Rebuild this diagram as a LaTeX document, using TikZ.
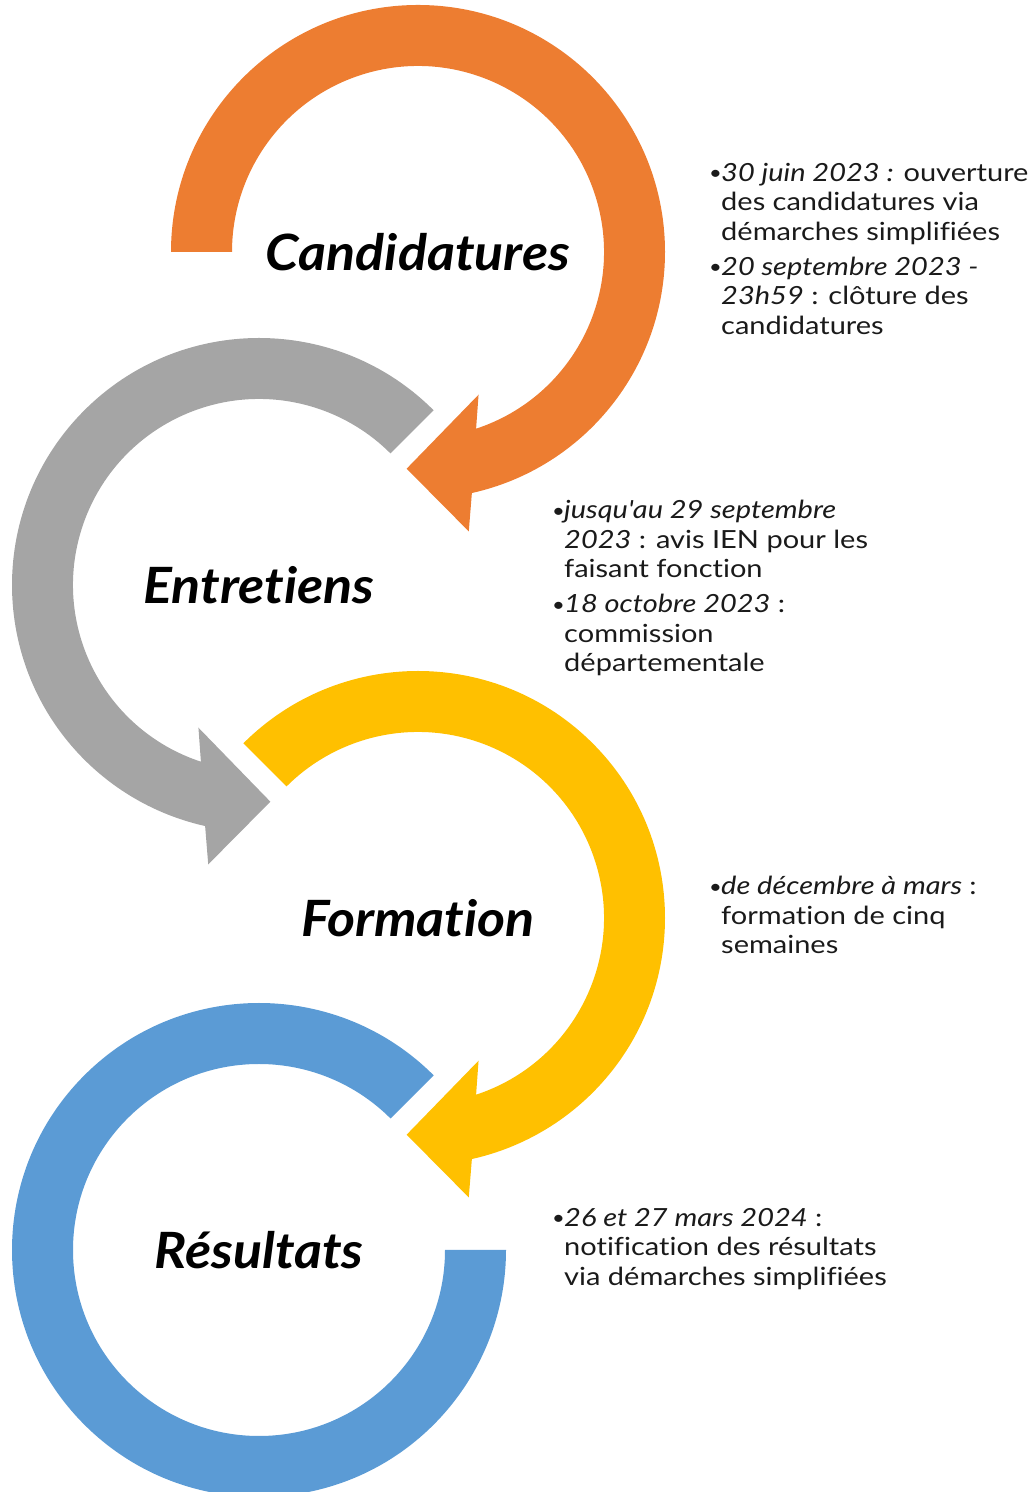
\documentclass[tikz,border=0pt]{standalone}
\usepackage{fontspec}
\setmainfont{Lato}
\newfontfamily\infofont{Lato}[FakeStretch=1.16, Ligatures={TeX,NoCommon}]
\newfontfamily\titrefont{Lato}[FakeStretch=1.075, Ligatures={TeX,NoCommon}]
\usetikzlibrary{calc}
\definecolor{ringorange}{HTML}{ED7D31}
\definecolor{ringgray}{HTML}{A5A5A5}
\definecolor{ringyellow}{HTML}{FFC000}
\definecolor{ringblue}{HTML}{5B9BD5}
\definecolor{texte}{HTML}{1A1A1A}
\tikzset{
  etape/.style={font=\titrefont\fontsize{50}{56}\selectfont\bfseries\itshape, text=black},
  info/.style={font=\infofont\fontsize{25}{29.5}\selectfont, text=texte, align=left, anchor=north west, inner sep=0pt},
}
\newcommand{\puce}{\makebox[13pt][l]{\hspace*{1pt}\raisebox{1.5pt}{\fontsize{19}{19}\selectfont\textbullet}}}
\newcommand{\retrait}{\hspace*{13pt}}
\begin{document}
\begin{tikzpicture}[x=1pt,y=1pt]
 \useasboundingbox (0,0) rectangle (1031,1492);
 \coordinate (cC) at (418,1240);
 \coordinate (cE) at (259,907);
 \coordinate (cF) at (418,574);
 \coordinate (cR) at (259,242);
 % candidatures
 \fill[ringorange] ($(cC)+(180:247)$) arc[start angle=180,end angle=-77.4,radius=247]
   -- ($(cC)+(-79.7:284)$) -- ($(cC)+(-93:217)$) -- ($(cC)+(-67:155)$)
   -- ($(cC)+(-71.8:186)$) arc[start angle=-71.8,end angle=180,radius=186] -- cycle;
 % entretiens
 \fill[ringgray] ($(cE)+(45:247)$) arc[start angle=45,end angle=257.4,radius=247]
   -- ($(cE)+(259.7:284)$) -- ($(cE)+(273:217)$) -- ($(cE)+(247:155)$)
   -- ($(cE)+(251.8:186)$) arc[start angle=251.8,end angle=45,radius=186] -- cycle;
 % formation
 \fill[ringyellow] ($(cF)+(135:247)$) arc[start angle=135,end angle=-77.4,radius=247]
   -- ($(cF)+(-79.7:284)$) -- ($(cF)+(-93:217)$) -- ($(cF)+(-67:155)$)
   -- ($(cF)+(-71.8:186)$) arc[start angle=-71.8,end angle=135,radius=186] -- cycle;
 % resultats
 \fill[ringblue] ($(cR)+(45:247)$) arc[start angle=45,end angle=360,radius=247]
   -- ($(cR)+(0:186)$) arc[start angle=360,end angle=45,radius=186] -- cycle;
 % titres
 \node[etape] (candidatures) at (cC) {Candidatures};
 \node[etape] (entretiens) at (cE) {Entretiens};
 \node[etape] (formation) at (cF) {Formation};
 \node[etape] (resultats) at (cR) {Résultats};
 % dates
 \node[info] (infoC) at (708,1329) {\puce\textit{30 juin 2023 :} ouverture\\
   \retrait des candidatures via\\
   \retrait démarches simplifiées\\[5.5pt]
   \puce\textit{20 septembre 2023 -}\\
   \retrait\textit{23h59} : clôture des\\
   \retrait candidatures};
 \node[info] (infoE) at (551,992) {\puce\textit{jusqu\textquotesingle au 29 septembre}\\
   \retrait\textit{2023} : avis IEN pour les\\
   \retrait faisant fonction\\[5.5pt]
   \puce\textit{18 octobre 2023} :\\
   \retrait commission\\
   \retrait départementale};
 \node[info] (infoF) at (708,616) {\puce\textit{de décembre à mars} :\\
   \retrait formation de cinq\\
   \retrait semaines};
 \node[info] (infoR) at (551,284) {\puce\textit{26 et 27 mars 2024} :\\
   \retrait notification des résultats\\
   \retrait via démarches simplifiées};
\end{tikzpicture}
\end{document}
